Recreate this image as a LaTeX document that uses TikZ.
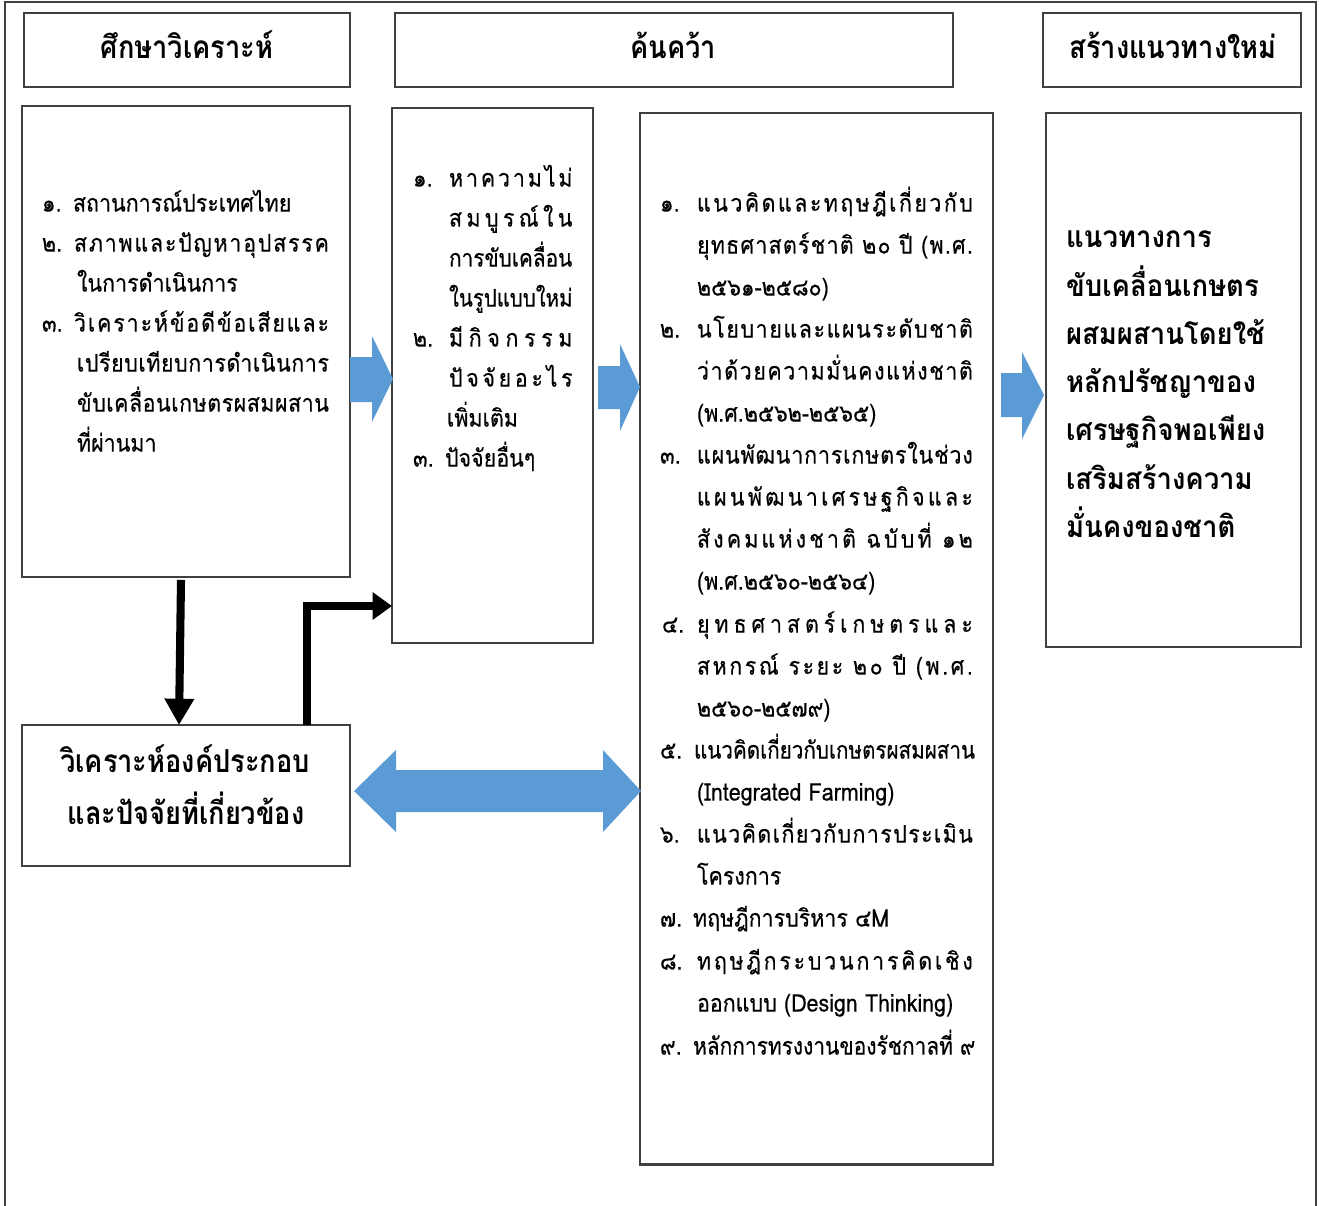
\documentclass[tikz,border=0pt]{standalone}
\usepackage{fontspec}
\usepackage{graphicx}
\setmainfont{Loma}[Script=Thai]
\newfontfamily\regfont{Loma}[Script=Thai,FakeStretch=0.884,FakeBold=0.4]
\newfontfamily\headfont{Loma}[Script=Thai,FakeStretch=0.86]
\newfontfamily\boldfontD{Loma}[Script=Thai,FakeStretch=0.92]
\usetikzlibrary{arrows.meta,calc}
\definecolor{bluearr}{HTML}{5B9BD5}
\definecolor{edgec}{HTML}{404040}
\newlength\WA \setlength\WA{145.1pt}
\newlength\WAc \setlength\WAc{143.4pt}
\newlength\WB \setlength\WB{70.3pt}
\newlength\WC \setlength\WC{157.0pt}
\def\jfirst#1|{#1\jrest}
\def\jrest#1|{\ifx\relax#1\else\hfil#1\expandafter\jrest\fi}
\newcommand\jl[2]{\makebox[#1][s]{\jfirst#2|\relax|}}
\newcommand\txtreg{\regfont\fontsize{13.8}{16}\selectfont}
\newcommand\txthead{\headfont\bfseries\fontsize{18}{21}\selectfont}
\newcommand\txtbold{\boldfontD\bfseries\fontsize{17}{20}\selectfont}
\begin{document}
\begin{tikzpicture}[x=0.02cm,y=-0.02cm,
  box/.style={draw=edgec, line width=0.8pt, rectangle, inner sep=0, outer sep=0},
  ln/.style={anchor=mid west, inner sep=0, outer sep=0, font=\txtreg},
  hd/.style={anchor=mid, inner sep=0, outer sep=0, font=\txthead},
  bd/.style={anchor=mid west, inner sep=0, outer sep=0, font=\txtbold},
  blk/.style={fill=bluearr, draw=none},
  barrow/.style={line width=4.6pt, line join=miter, -{Triangle[width=16pt,length=15pt]}},
  barrowb/.style={line width=4.8pt, line join=miter, -{Triangle[width=15pt,length=11pt]}}]
\useasboundingbox (0,0) rectangle (1321,1205);
% outer frame
\draw[edgec, line width=0.8pt] (5,1210) -- (5,2) -- (1316,2) -- (1316,1210);
% header boxes
\node[box, minimum width=6.52cm, minimum height=1.48cm] (h1) at (187,50) {};
\node[box, minimum width=11.16cm, minimum height=1.48cm] (h2) at (674,50) {};
\node[box, minimum width=5.16cm, minimum height=1.48cm] (h3) at (1172,50) {};
\node[hd] (h1t) at (187,54) {ศึกษาวิเคราะห์};
\node[hd] (h2t) at (673,54) {ค้นคว้า};
\node[hd] (h3t) at (1173,54) {สร้างแนวทางใหม่};
% content boxes
\node[box, minimum width=6.56cm, minimum height=9.42cm] (A) at (186,341.5) {};
\node[box, minimum width=4.02cm, minimum height=10.70cm] (B) at (492.5,375.5) {};
\node[box, minimum width=7.06cm, minimum height=21.04cm] (C) at (816.5,639) {};
\node[box, minimum width=5.10cm, minimum height=10.68cm] (D) at (1173.5,380) {};
\node[box, minimum width=6.56cm, minimum height=2.82cm] (E) at (186,795.5) {};
\draw[edgec, line width=1.3pt] ($(C.south west)+(0,-1)$) -- ($(C.south east)+(0,-1)$);
% box A text
\node[ln] (a1n) at (42,207) {๑.};
\node[ln] (a1) at (73,207) {สถานการณ์ประเทศไทย};
\node[ln] (a2n) at (42,247) {๒.};
\node[ln] (a2) at (74,247) {\jl{\WA}{ส|ภ|า|พ|แ|ล|ะ|ปั|ญ|ห|า|อุ|ป|ส|ร|ร|ค}};
\node[ln] (a3) at (77,287) {ในการดำเนินการ};
\node[ln] (a4n) at (42,327) {๓.};
\node[ln] (a4) at (74,327) {\jl{\WA}{วิ|เ|ค|ร|า|ะ|ห์|ข้|อ|ดี|ข้|อ|เ|สี|ย|แ|ล|ะ}};
\node[ln] (a5) at (77,367) {\jl{\WAc}{เ|ป|รี|ย|บ|เ|ที|ย|บ|ก|า|ร|ดำ|เ|นิ|น|ก|า|ร}};
\node[ln] (a6) at (77,407) {\jl{\WAc}{ขั|บ|เ|ค|ลื่|อ|น|เ|ก|ษ|ต|ร|ผ|ส|ม|ผ|ส|า|น}};
\node[ln] (a7) at (77,447) {ที่ผ่านมา};
% box B text
\node[ln] (b1n) at (413,182) {๑.};
\node[ln] (b1) at (449,182) {\jl{\WB}{ห|า|ค|ว|า|ม|ไ|ม่}};
\node[ln] (b2) at (449,222) {\jl{\WB}{ส|ม|บู|ร|ณ์|ใ|น}};
\node[ln] (b3) at (449,262) {\scalebox{0.97}[1]{การขับเคลื่อน}};
\node[ln] (b4) at (449,302) {\scalebox{0.95}[1]{ในรูปแบบใหม่}};
\node[ln] (b5n) at (413,342) {๒.};
\node[ln] (b5) at (449,342) {\jl{\WB}{มี|กิ|จ|ก|ร|ร|ม}};
\node[ln] (b6) at (449,382) {\jl{\WB}{ปั|จ|จั|ย|อ|ะ|ไ|ร}};
\node[ln] (b7) at (447,422) {เพิ่มเติม};
\node[ln] (b8n) at (413,462) {๓.};
\node[ln] (b8) at (445,462) {ปัจจัยอื่นๆ};
% box C text
\node[ln] (c1n) at (660,207) {๑.};
\node[ln] (c1) at (697,207) {\jl{\WC}{แ|น|ว|คิ|ด|แ|ล|ะ|ท|ฤ|ษ|ฎี|เ|กี่|ย|ว|กั|บ}};
\node[ln] (c2) at (697,249) {\jl{\WC}{ยุ|ท|ธ|ศ|า|ส|ต|ร์|ช|า|ติ\ |๒|๐\ |ปี\ |(|พ|.|ศ|.}};
\node[ln] (c3) at (697,291) {๒๕๖๑-๒๕๘๐)};
\node[ln] (c4n) at (660,333) {๒.};
\node[ln] (c4) at (697,333) {\jl{\WC}{น|โ|ย|บ|า|ย|แ|ล|ะ|แ|ผ|น|ร|ะ|ดั|บ|ช|า|ติ}};
\node[ln] (c5) at (697,375) {\jl{\WC}{ว่|า|ด้|ว|ย|ค|ว|า|ม|มั่|น|ค|ง|แ|ห่|ง|ช|า|ติ}};
\node[ln] (c6) at (697,417) {(พ.ศ.๒๕๖๒-๒๕๖๕)};
\node[ln] (c7n) at (660,459) {๓.};
\node[ln] (c7) at (697,459) {\jl{\WC}{แ|ผ|น|พั|ฒ|น|า|ก|า|ร|เ|ก|ษ|ต|ร|ใ|น|ช่|ว|ง}};
\node[ln] (c8) at (697,501) {\jl{\WC}{แ|ผ|น|พั|ฒ|น|า|เ|ศ|ร|ษ|ฐ|กิ|จ|แ|ล|ะ}};
\node[ln] (c9) at (697,543) {\jl{\WC}{สั|ง|ค|ม|แ|ห่|ง|ช|า|ติ\ |ฉ|บั|บ|ที่\ |๑|๒}};
\node[ln] (c10) at (697,585) {(พ.ศ.๒๕๖๐-๒๕๖๔)};
\node[ln] (c11n) at (662,628) {๔.};
\node[ln] (c11) at (697,628) {\jl{\WC}{ยุ|ท|ธ|ศ|า|ส|ต|ร์|เ|ก|ษ|ต|ร|แ|ล|ะ}};
\node[ln] (c12) at (697,670) {\jl{\WC}{ส|ห|ก|ร|ณ์\ |ร|ะ|ย|ะ\ |๒|๐\ |ปี\ |(|พ|.|ศ|.}};
\node[ln] (c13) at (697,712) {๒๕๖๐-๒๕๗๙)};
\node[ln] (c14n) at (660,754) {๕.};
\node[ln] (c14) at (694,754) {\scalebox{0.962}[1]{แนวคิดเกี่ยวกับเกษตรผสมผสาน}};
\node[ln] (c15) at (697,796) {(Integrated Farming)};
\node[ln] (c16n) at (660,838) {๖.};
\node[ln] (c16) at (697,838) {\jl{\WC}{แ|น|ว|คิ|ด|เ|กี่|ย|ว|กั|บ|ก|า|ร|ป|ร|ะ|เ|มิ|น}};
\node[ln] (c17) at (697,880) {โครงการ};
\node[ln] (c18n) at (660,922) {๗.};
\node[ln] (c18) at (693,922) {ทฤษฎีการบริหาร ๔M};
\node[ln] (c19n) at (660,965) {๘.};
\node[ln] (c19) at (697,965) {\jl{\WC}{ท|ฤ|ษ|ฎี|ก|ร|ะ|บ|ว|น|ก|า|ร|คิ|ด|เ|ชิ|ง}};
\node[ln] (c20) at (697,1007) {ออกแบบ (Design Thinking)};
\node[ln] (c21n) at (660,1050) {๙.};
\node[ln] (c21) at (693,1050) {\scalebox{0.976}[1]{หลักการทรงงานของรัชกาลที่ ๙}};
% box D text
\node[bd] (d1) at (1066,243) {แนวทางการ};
\node[bd] (d2) at (1066,292) {ขับเคลื่อนเกษตร};
\node[bd] (d3) at (1066,340) {ผสมผสานโดยใช้};
\node[bd] (d4) at (1066,388) {หลักปรัชญาของ};
\node[bd] (d5) at (1066,436) {เศรษฐกิจพอเพียง};
\node[bd] (d6) at (1066,485) {เสริมสร้างความ};
\node[bd] (d7) at (1066,533) {มั่นคงของชาติ};
% box E text
\node[hd] (e1) at (185,768) {วิเคราะห์องค์ประกอบ};
\node[hd] (e2) at (186,820) {และปัจจัยที่เกี่ยวข้อง};
% blue block arrows
\fill[blk] (350,357) -- (372,357) -- (372,336) -- (393,379) -- (372,422) -- (372,402) -- (350,402) -- cycle;
\fill[blk] (598,366) -- (620,366) -- (620,344) -- (640,387) -- (620,431) -- (620,409) -- (598,409) -- cycle;
\fill[blk] (1001,373) -- (1022,373) -- (1022,352) -- (1044,395) -- (1022,439) -- (1022,417) -- (1001,417) -- cycle;
\fill[blk] (354,791) -- (396,750) -- (396,770) -- (603,770) -- (603,750) -- (641,791) -- (603,832) -- (603,812) -- (396,812) -- (396,832) -- cycle;
% black arrows
\draw[barrow] ($(A.south)+(-5,3)$) -- ($(E.north)+(-7,0)$);
\draw[barrowb] ($(E.north)+(121,0)$) |- ($(B.west)+(0,230.5)$);
\end{tikzpicture}
\end{document}
